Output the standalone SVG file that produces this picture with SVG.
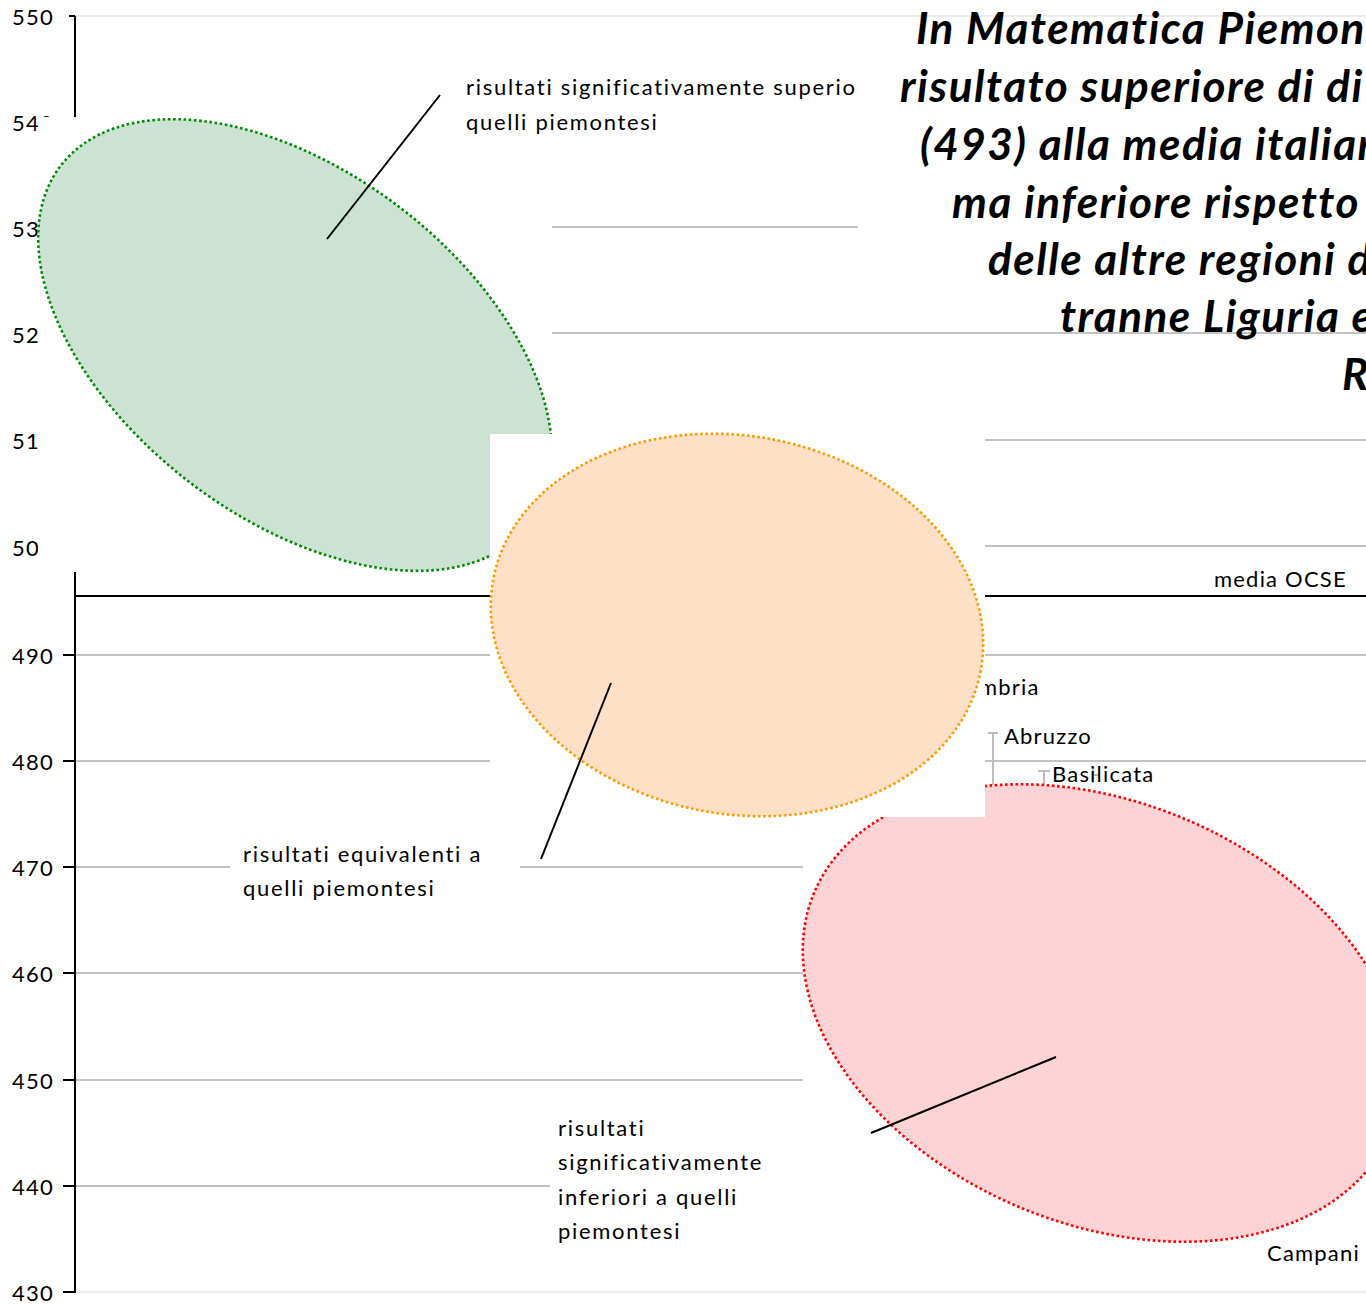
<svg xmlns="http://www.w3.org/2000/svg" width="1366" height="1305" viewBox="0 0 1366 1305">
<style>
.grid{stroke:#c3c3c3;stroke-width:2;fill:none}
.faint{stroke:#ececec;stroke-width:2;fill:none}
.axis{stroke:#000;stroke-width:2;fill:none}
.ocse{stroke:#000;stroke-width:2.2;fill:none}
.lbl{font-family:Lato,"Liberation Sans",sans-serif;font-size:22px;letter-spacing:1.2px;fill:#000}
.note{font-family:Lato,"Liberation Sans",sans-serif;font-size:22px;letter-spacing:1.7px;fill:#000}
.title{font-family:Lato,"Liberation Sans",sans-serif;font-size:44px;font-weight:700;font-style:italic;letter-spacing:1.5px;fill:#000}
.bg{fill:#fff;stroke:none}
.err{stroke:#bdbdbd;stroke-width:2;fill:none}
.lead{stroke:#000;stroke-width:2;fill:none}
.dot{stroke-width:2.6;stroke-dasharray:2.6 2.6}
</style>
<rect width="1366" height="1305" fill="#fff"/>

<g id="chart-grid">
  <line class="faint" x1="75" y1="16" x2="1366" y2="16"/>
  <line class="grid" x1="75" y1="122" x2="1366" y2="122"/>
  <line class="grid" x1="75" y1="227" x2="1366" y2="227"/>
  <line class="grid" x1="75" y1="333" x2="1366" y2="333"/>
  <line class="grid" x1="75" y1="440" x2="1366" y2="440"/>
  <line class="grid" x1="75" y1="546" x2="1366" y2="546"/>
  <line class="grid" x1="75" y1="655" x2="1366" y2="655"/>
  <line class="grid" x1="75" y1="761" x2="1366" y2="761"/>
  <line class="grid" x1="75" y1="867" x2="1366" y2="867"/>
  <line class="grid" x1="75" y1="973" x2="1366" y2="973"/>
  <line class="grid" x1="75" y1="1080" x2="1366" y2="1080"/>
  <line class="grid" x1="75" y1="1186" x2="1366" y2="1186"/>
  <line class="faint" x1="75" y1="1292" x2="1366" y2="1292"/>
  <line class="ocse" x1="76" y1="596" x2="1366" y2="596"/>
</g>

<g id="y-axis">
  <line class="axis" x1="75" y1="16" x2="75" y2="1293"/>
  <line class="axis" x1="69" y1="16" x2="75" y2="16"/>
  <line class="axis" x1="63" y1="655" x2="75" y2="655"/>
  <line class="axis" x1="63" y1="761" x2="75" y2="761"/>
  <line class="axis" x1="63" y1="867" x2="75" y2="867"/>
  <line class="axis" x1="63" y1="973" x2="75" y2="973"/>
  <line class="axis" x1="63" y1="1080" x2="75" y2="1080"/>
  <line class="axis" x1="63" y1="1186" x2="75" y2="1186"/>
  <line class="axis" x1="63" y1="1292" x2="75" y2="1292"/>
  <text class="lbl" x="12" y="25">550</text>
  <text class="lbl" x="12" y="131">540</text>
  <text class="lbl" x="12" y="237">530</text>
  <text class="lbl" x="12" y="343">520</text>
  <text class="lbl" x="12" y="449">510</text>
  <text class="lbl" x="12" y="556">500</text>
  <text class="lbl" x="12" y="664">490</text>
  <text class="lbl" x="12" y="770">480</text>
  <text class="lbl" x="12" y="876">470</text>
  <text class="lbl" x="12" y="982">460</text>
  <text class="lbl" x="12" y="1089">450</text>
  <text class="lbl" x="12" y="1195">440</text>
  <text class="lbl" x="12" y="1301">430</text>
</g>

<g id="region-labels">
  <text class="lbl" x="1214" y="587">media OCSE</text>
  <text class="lbl" x="962" y="695">Umbria</text>
  <path class="err" d="M988 733 H998 M993 733 V790"/>
  <text class="lbl" x="1004" y="744">Abruzzo</text>
  <path class="err" d="M1038 771 H1050 M1044 771 V790 M1093 767 V783 M1093 775 H1100"/>
  <text class="lbl" x="1052" y="782">Basilicata</text>
  <text class="lbl" x="1267" y="1261">Campani</text>
</g>

<g id="ellipse-superiori">
  <rect class="bg" x="38" y="117" width="514" height="455"/>
  <ellipse class="dot" cx="295" cy="345" rx="295" ry="173" transform="rotate(37.4 295 345)" fill="#cce3d4" stroke="#008a00"/>
</g>

<g id="ellipse-inferiori">
  <rect class="bg" x="803" y="785" width="563" height="458"/>
  <ellipse class="dot" cx="1102" cy="1013" rx="312" ry="211" transform="rotate(22.6 1102 1013)" fill="#fdd3d5" stroke="#ff0000"/>
</g>

<g id="ellipse-equivalenti">
  <rect class="bg" x="490" y="434" width="495" height="383"/>
  <ellipse class="dot" cx="737" cy="625" rx="248" ry="189" transform="rotate(10.6 737 625)" fill="#fde0c5" stroke="#ff9a00"/>
</g>

<g id="label-superiori">
  <rect class="bg" x="440" y="62" width="418" height="90"/>
  <text class="note" x="466" y="95">risultati significativamente superiori a</text>
  <text class="note" x="466" y="130">quelli piemontesi</text>
</g>

<g id="label-equivalenti">
  <rect class="bg" x="230" y="836" width="290" height="70"/>
  <text class="note" x="243" y="862">risultati equivalenti a</text>
  <text class="note" x="243" y="896">quelli piemontesi</text>
</g>

<g id="label-inferiori">
  <rect class="bg" x="550" y="1105" width="253" height="145"/>
  <text class="note" x="558" y="1136">risultati</text>
  <text class="note" x="558" y="1170">significativamente</text>
  <text class="note" x="558" y="1205">inferiori a quelli</text>
  <text class="note" x="558" y="1239">piemontesi</text>
</g>

<g id="title">
  <rect class="bg" x="858" y="20" width="508" height="282"/>
  <text class="title" x="916" y="44">In Matematica Piemon</text>
  <text class="title" x="900" y="102">risultato superiore di di</text>
  <text class="title" x="920" y="160">(493) alla media italian</text>
  <text class="title" x="952" y="218">ma inferiore rispetto</text>
  <text class="title" x="988" y="275">delle altre regioni d</text>
  <text class="title" x="1060" y="332">tranne Liguria e</text>
  <text class="title" x="1342" y="390">R</text>
</g>

<g id="connectors">
  <line class="lead" x1="440" y1="95" x2="327" y2="239"/>
  <line class="lead" x1="611" y1="683" x2="541" y2="859"/>
  <line class="lead" x1="1056" y1="1057" x2="871" y2="1133"/>
</g>
</svg>
